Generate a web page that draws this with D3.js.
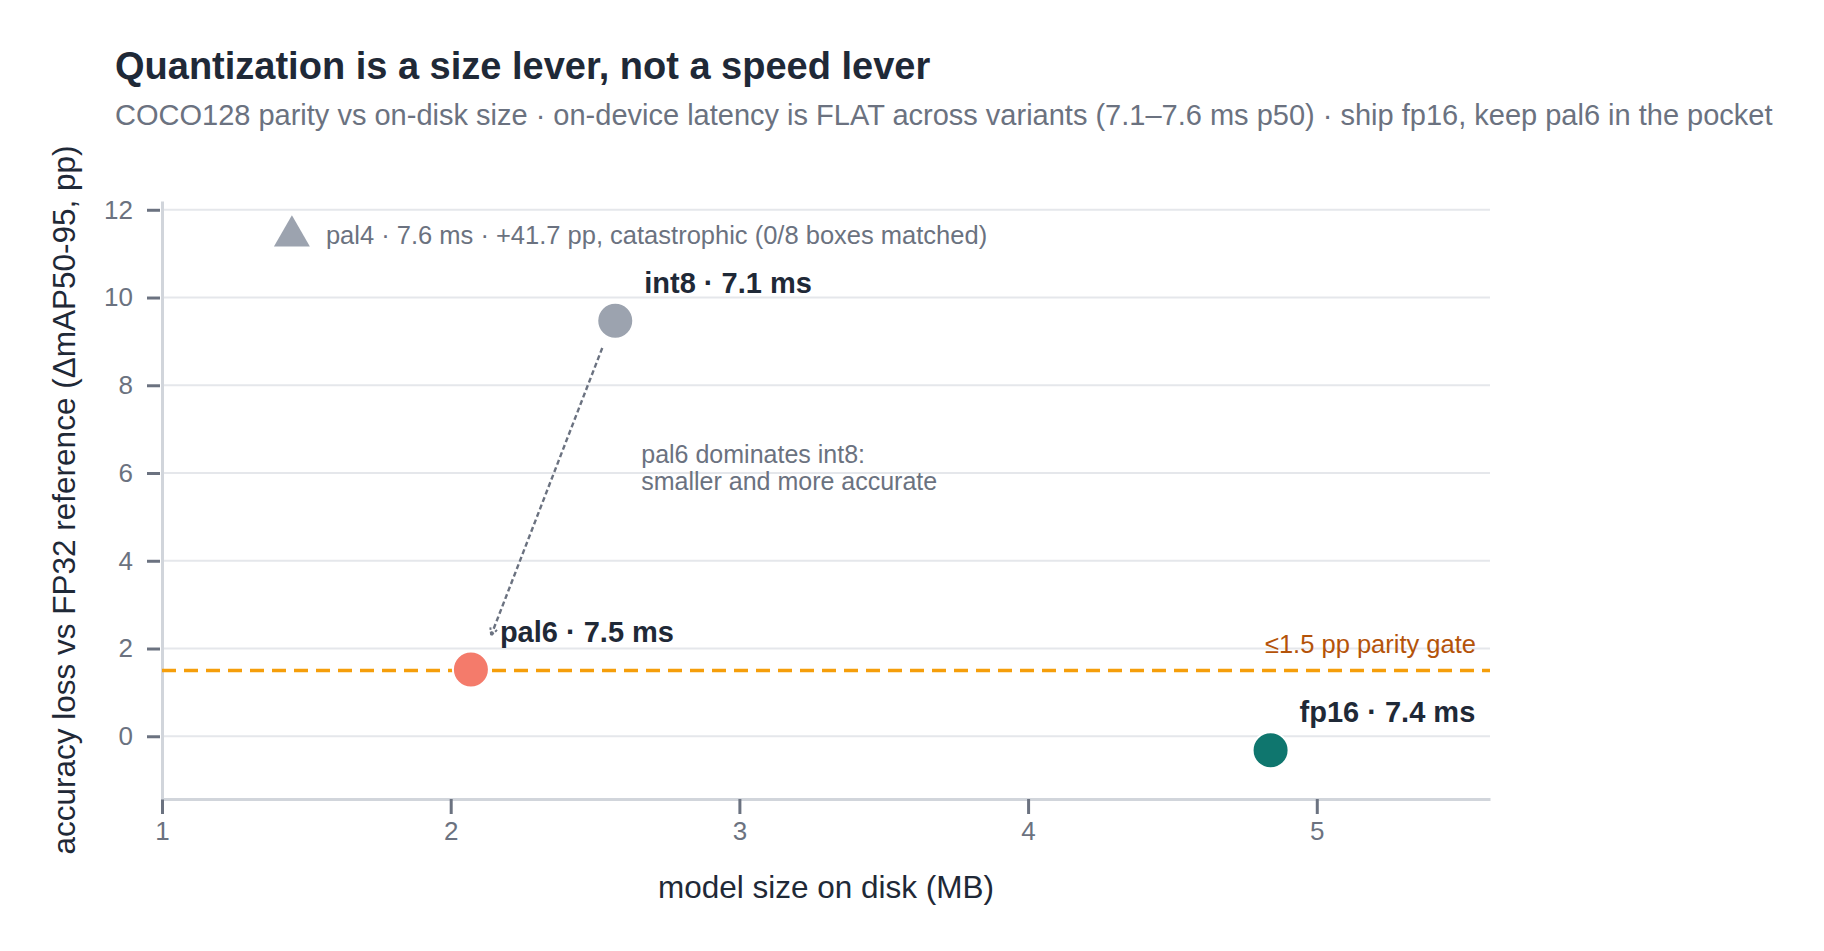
<!DOCTYPE html>
<html>
<head>
<meta charset="utf-8">
<script src="https://cdn.jsdelivr.net/npm/d3@7"></script>
<style>
  html, body { margin: 0; padding: 0; background: #ffffff; }
  svg { display: block; font-family: "Liberation Sans", Arial, Helvetica, sans-serif; }
</style>
</head>
<body>
<svg id="chart" width="1824" height="951"></svg>
<script>
// Variants that fit on the axes
var variants = ["fp16", "int8", "pal6"];
var sizeMB = [4.84, 2.57, 2.07];
var lossPP = [-0.32, 9.47, 1.52];
var latencyMs = [7.4, 7.1, 7.5];

// pal4 is off the scale, shown as a marker near the top
var offVariant = "pal4";
var offSizeMB = 1.45;
var offLossPP = 41.7;
var offLatencyMs = 7.6;
var offMarkerY = 11.4;
var offNote = "catastrophic (0/8 boxes matched)";

var parityGate = 1.5;
var xTicks = [1, 2, 3, 4, 5];
var yTicks = [0, 2, 4, 6, 8, 10, 12];
var xDomain = [1, 5.6];
var yDomain = [-1.43, 12.2];

// Arrow from int8 to pal6 (data units)
var arrowFrom = [2.525, 8.85];
var arrowTo = [2.14, 2.3];
var arrowNote = ["pal6 dominates int8:", "smaller and more accurate"];
var notePos = [2.66, 6.23];

var colorOf = { fp16: "#0f766e", int8: "#9ca3af", pal6: "#f47b6b", pal4: "#9ca3af" };

var margin = { left: 162, right: 334, top: 201, bottom: 152 };
var width = 1824, height = 951;

var svg = d3.select("#chart");

var x = d3.scaleLinear().domain(xDomain).range([margin.left, width - margin.right]);
var y = d3.scaleLinear().domain(yDomain).range([height - margin.bottom, margin.top]);

// Title and subtitle
svg.append("text")
    .attr("x", 115)
    .attr("y", 79)
    .style("font-size", "38px")
    .style("font-weight", "bold")
    .style("fill", "#1f2937")
    .text("Quantization is a size lever, not a speed lever");

svg.append("text")
    .attr("x", 115)
    .attr("y", 125)
    .style("font-size", "29px")
    .style("fill", "#6b7280")
    .text("COCO128 parity vs on-disk size \u00b7 on-device latency is FLAT across variants (7.1\u20137.6 ms p50) \u00b7 ship fp16, keep pal6 in the pocket");

// Gridlines
svg.append("g")
    .selectAll("line")
    .data(yTicks)
    .enter()
    .append("line")
        .attr("x1", x(xDomain[0]))
        .attr("x2", x(xDomain[1]))
        .attr("y1", function (d) { return y(d); })
        .attr("y2", function (d) { return y(d); })
        .style("stroke", "#e5e7eb")
        .style("stroke-width", 2);

// Axes
var xAxis = svg.append("g")
    .attr("transform", "translate(0," + y(yDomain[0]) + ")")
    .call(d3.axisBottom(x).tickValues(xTicks).tickSize(15).tickPadding(8).tickSizeOuter(0).tickFormat(d3.format("d")));

var yAxis = svg.append("g")
    .attr("transform", "translate(" + x(xDomain[0]) + ",0)")
    .call(d3.axisLeft(y).tickValues(yTicks).tickSize(15).tickPadding(14).tickSizeOuter(0).tickFormat(d3.format("d")));

[xAxis, yAxis].forEach(function (ax) {
    ax.select(".domain").style("stroke", "#d1d5db").style("stroke-width", 3);
    ax.selectAll(".tick line").style("stroke", "#6b7280").style("stroke-width", 3);
    ax.selectAll(".tick text")
        .style("font-family", "\"Liberation Sans\", Arial, sans-serif")
        .style("font-size", "26px")
        .style("fill", "#6b7280");
});
yAxis.selectAll(".tick line").attr("x1", -2);

// Axis titles
svg.append("text")
    .attr("x", (x(xDomain[0]) + x(xDomain[1])) / 2)
    .attr("y", 898)
    .attr("text-anchor", "middle")
    .style("font-size", "31.5px")
    .style("fill", "#1f2937")
    .text("model size on disk (MB)");

svg.append("text")
    .attr("transform", "translate(75," + 500 + ") rotate(-90)")
    .attr("text-anchor", "middle")
    .style("font-size", "31.5px")
    .style("fill", "#1f2937")
    .text("accuracy loss vs FP32 reference (\u0394mAP50-95, pp)");

// Parity gate
svg.append("line")
    .attr("x1", x(xDomain[0]))
    .attr("x2", x(xDomain[1]))
    .attr("y1", y(parityGate))
    .attr("y2", y(parityGate))
    .style("stroke", "#f59e0b")
    .style("stroke-width", 3.5)
    .style("stroke-dasharray", "14,8");

svg.append("text")
    .attr("x", x(xDomain[1]) - 14)
    .attr("y", y(parityGate) - 17)
    .attr("text-anchor", "end")
    .style("font-size", "25.5px")
    .style("fill", "#b45309")
    .text("\u22641.5 pp parity gate");

// Arrow annotation
var defs = svg.append("defs");
defs.append("marker")
    .attr("id", "arrowHead")
    .attr("viewBox", "0 0 10 10")
    .attr("refX", 9)
    .attr("refY", 5)
    .attr("markerWidth", 9)
    .attr("markerHeight", 9)
    .attr("markerUnits", "userSpaceOnUse")
    .attr("orient", "auto")
    .append("path")
        .attr("d", "M1,1 L9,5 L1,9")
        .style("fill", "none")
        .style("stroke", "#6b7280")
        .style("stroke-width", 2.2)
        .style("stroke-dasharray", "3,2");

svg.append("line")
    .attr("x1", x(arrowFrom[0]))
    .attr("y1", y(arrowFrom[1]))
    .attr("x2", x(arrowTo[0]))
    .attr("y2", y(arrowTo[1]))
    .attr("marker-end", "url(#arrowHead)")
    .style("stroke", "#6b7280")
    .style("stroke-width", 2.4)
    .style("stroke-dasharray", "5,3");

svg.append("text")
    .attr("x", x(notePos[0]))
    .attr("y", y(notePos[1]))
    .style("font-size", "25px")
    .style("fill", "#6b7280")
    .selectAll("tspan")
    .data(arrowNote)
    .enter()
    .append("tspan")
        .attr("x", x(notePos[0]))
        .attr("dy", function (d, i) { return i === 0 ? 0 : 27; })
        .text(function (d) { return d; });

// Points
var points = variants.map(function (v, i) {
    return { name: v, size: sizeMB[i], loss: lossPP[i], ms: latencyMs[i] };
});

var dots = svg.append("g")
    .selectAll("g")
    .data(points)
    .enter()
    .append("g");

dots.append("circle")
    .attr("cx", function (d) { return x(d.size); })
    .attr("cy", function (d) { return y(d.loss); })
    .attr("r", 18)
    .style("fill", function (d) { return colorOf[d.name]; })
    .style("stroke", "#ffffff")
    .style("stroke-width", 2);

dots.append("text")
    .attr("x", function (d) { return x(d.size) + 29; })
    .attr("y", function (d) { return y(d.loss) - 28; })
    .style("font-size", "29px")
    .style("font-weight", "bold")
    .style("fill", "#1f2937")
    .text(function (d) { return d.name + " \u00b7 " + d.ms.toFixed(1) + " ms"; });

// Off-scale pal4 marker
svg.append("path")
    .attr("transform", "translate(" + x(offSizeMB) + "," + y(offMarkerY) + ")")
    .attr("d", d3.symbol().type(d3.symbolTriangle).size(560))
    .style("fill", colorOf[offVariant]);

svg.append("text")
    .attr("x", x(offSizeMB) + 34)
    .attr("y", y(offMarkerY) + 8)
    .style("font-size", "25.5px")
    .style("fill", "#6b7280")
    .text(offVariant + " \u00b7 " + offLatencyMs.toFixed(1) + " ms \u00b7 +" + offLossPP.toFixed(1) + " pp, " + offNote);
</script>
</body>
</html>
